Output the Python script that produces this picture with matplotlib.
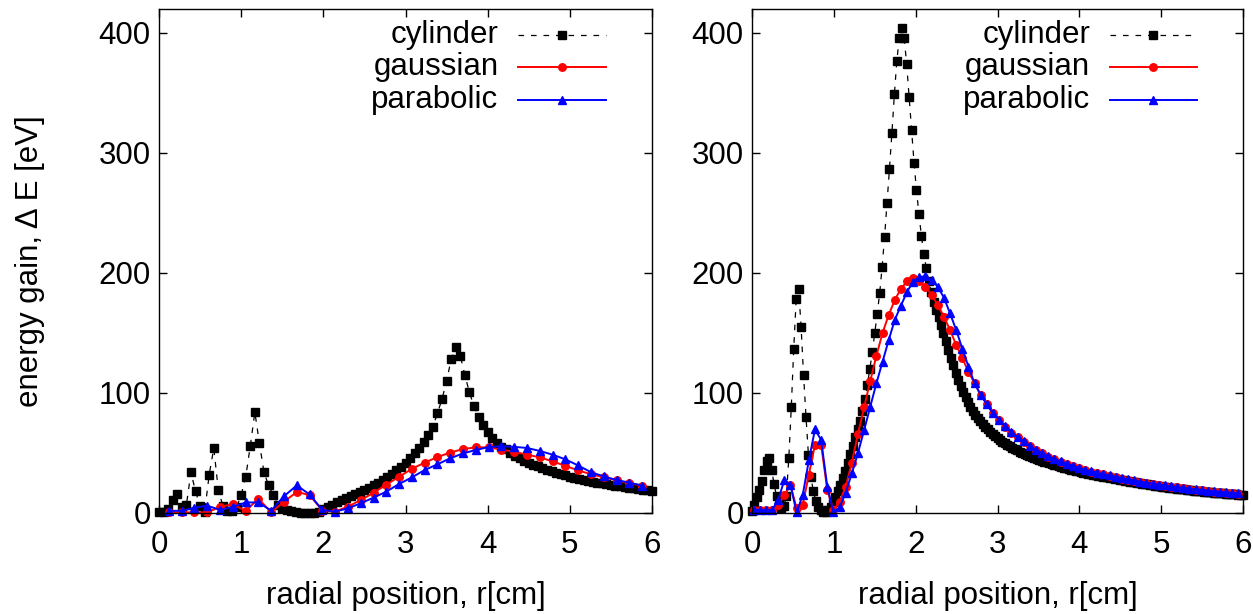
import numpy as np
import matplotlib
matplotlib.use("Agg")
import matplotlib.pyplot as plt
from matplotlib.lines import Line2D

plt.rcParams['font.family'] = ['Liberation Sans', 'DejaVu Sans']

# ---------------- data ----------------
labels = ["cylinder", "gaussian", "parabolic"]
xticks = [0, 1, 2, 3, 4, 5, 6]
yticks = [0, 100, 200, 300, 400]
xlabel = "radial position, r[cm]"
ylabel = "energy gain, \u0394 E [eV]"

# left panel
left_cyl = [0.5, 1, 3, 10.8, 15.8, 5, 6.7, 34, 18, 6,
            1, 32, 54, 19, 6, 2, 2, 5, 15, 30,
            56, 84, 58, 34, 23, 15, 7, 4, 2.5, 1.5,
            0.8, 0.3, 0, 0, 0.3, 1, 3, 5, 7, 9,
            11, 12.5, 14, 15.5, 17.2, 19, 20.7, 23, 25, 27.5,
            30, 32.5, 35.5, 38.5, 42, 45.6, 49.7, 54.5, 59, 65,
            72, 83, 95, 110, 128, 138, 131, 115, 100.5, 89,
            80, 73.3, 67.5, 62.5, 58.5, 55, 53, 50, 47.5, 45.5,
            43.7, 42, 40.3, 38.8, 37.4, 36, 34.8, 33.6, 32.5, 31.4,
            30.4, 29.4, 28.5, 27.6, 26.8, 26, 25.3, 24.6, 24, 23.4,
            22.8, 22.2, 21.6, 21, 20.5, 20, 19.5, 19, 18.6]
left_gau = [0.5, 0.5, 0.5, 0.5, 5, 7.5, 1.5, 12, 0.5, 9.4,
            17.5, 15, 2, 1.2, 5.3, 10.8, 16.8, 23.7, 30.2, 36.8,
            42, 46.6, 50.4, 53.3, 54.7, 54.7, 52.8, 51.1, 48.6, 46.4,
            43, 39.3, 35.5, 32.3, 29.7, 27.2, 24.7, 22.9]
left_par = [1.8, 1.8, 4.5, 6, 2.7, 5, 8.8, 8.8, 2, 14,
            23, 15.5, 2.5, 1.1, 3.9, 8.1, 12.8, 17.8, 24.2, 29.7,
            35.8, 40.6, 45.6, 49.7, 52.5, 55, 55.7, 55.1, 54.2, 51.7,
            48.6, 44.7, 39.6, 34, 30.5, 27.5, 25.3, 22.8]

# right panel
right_cyl = [2, 7, 13, 19, 27, 36, 43, 46, 36, 24,
             14, 7, 4, 6, 14, 46, 88, 137, 178, 187,
             155, 115, 80, 48, 30, 18, 10, 5, 2.5, 1,
             1, 2.5, 5, 9, 13, 18, 23, 29, 35, 42,
             49, 56, 63, 70, 77, 85, 95, 107, 120, 134,
             150, 166, 183, 205, 230, 258, 287, 317, 349, 377,
             396, 404, 396, 374, 347, 319, 292, 269, 249, 231,
             216, 204, 193, 184, 176, 169, 163, 157, 150, 143,
             136, 129, 123, 117, 111, 106, 101, 96.5, 92.5, 88.5,
             85, 82, 79, 76.5, 74, 71.8, 69.7, 67.7, 65.8, 64,
             62.4, 60.9, 59.5, 58.1, 56.8, 55.6, 54.4, 53.3, 52.2, 51.2,
             50.2, 49.3, 48.4, 47.5, 46.7, 45.9, 45.1, 44.3, 43.6, 42.9,
             42.2, 41.5, 40.8, 40.2, 39.6, 39.0, 38.4, 37.8, 37.2, 36.7,
             36.2, 35.7, 35.2, 34.7, 34.2, 33.7, 33.2, 32.8, 32.4, 32.0,
             31.6, 31.2, 30.8, 30.4, 30.0, 29.6, 29.2, 28.8, 28.4, 28.0,
             27.6, 27.25, 26.9, 26.55, 26.2, 25.85, 25.5, 25.15, 24.8, 24.45,
             24.1, 23.8, 23.5, 23.2, 22.9, 22.6, 22.3, 22.0, 21.7, 21.4,
             21.1, 20.85, 20.6, 20.35, 20.1, 19.85, 19.6, 19.35, 19.1, 18.85,
             18.6, 18.4, 18.2, 18.0, 17.8, 17.6, 17.4, 17.2, 17.0, 16.8,
             16.6, 16.45, 16.3, 16.15, 16.0, 15.85, 15.7, 15.55, 15.4, 15.25,
             15.1]
right_gau = [2.5, 2.5, 2.5, 2.5, 6.5, 15, 23, 4, 7, 32,
             57, 57, 19, 2.5, 9.5, 22, 42, 66, 88, 110,
             131, 150, 165, 177.5, 187, 193, 195.6, 193, 188.6, 181.7,
             173.3, 163.6, 152.5, 140, 129, 117.8, 108, 98.3, 90.6, 83,
             77.5, 72, 67, 63, 59.4, 55.8, 52.5, 49.7, 47, 44.7,
             42.8, 40.8, 39.2, 37.2, 35.8, 34.5, 33.3, 32.1, 31, 29.9,
             28.7, 27.7, 26.8, 25.9, 25.0, 24.2, 23.4, 22.7, 22.0, 21.3,
             20.7, 20.1, 19.5, 18.9, 18.4, 17.9, 17.4, 16.9, 16.4, 16.0]
right_par = [2.5, 2.5, 2.5, 2.5, 10.8, 27.5, 23.3, 0.5, 15, 44,
             69.7, 60.8, 22, 0.5, 4.7, 17, 33, 50, 69, 88.6,
             108, 126, 144, 161, 172.8, 184.4, 192.8, 196.4, 197.5, 194,
             188.6, 179.5, 166.4, 152.5, 137, 122, 108, 98.5, 90.5, 83.2,
             77.8, 72.3, 67.3, 63.3, 59.7, 56.1, 52.8, 50, 47.3, 45,
             43.1, 41.1, 39.5, 37.5, 36.1, 34.8, 33.6, 32.4, 31.3, 30.2,
             29, 28, 27.1, 26.2, 25.3, 24.5, 23.7, 23, 22.3, 21.6,
             21, 20.4, 19.8, 19.2, 18.7, 18.2, 17.7, 17.2, 16.7, 16.3]

# sample grids (radial positions)
left_cyl_r = np.linspace(0.0, 6.0, len(left_cyl))
left_gp_r = np.linspace(0.12, 5.88, len(left_gau))
right_cyl_r = np.linspace(0.0, 6.0, len(right_cyl))
right_gp_r = np.linspace(0.02, 5.945, len(right_gau))

# ---------------- styling ----------------
styles = [
    dict(color='black', linestyle=(0, (4.5, 5.5)), linewidth=0.9,
         marker='s', markersize=5.8, markerfacecolor='black', markeredgecolor='black'),
    dict(color='#ff0000', linestyle='-', linewidth=1.4,
         marker='o', markersize=5.4, markerfacecolor='#ff0000', markeredgecolor='#ff0000'),
    dict(color='#0000ff', linestyle='-', linewidth=1.4,
         marker='^', markersize=5.8, markerfacecolor='#0000ff', markeredgecolor='#0000ff'),
]

W, H = 1253, 614
fig = plt.figure(figsize=(W / 100, H / 100), dpi=100)
FS = 22.5


def make_axes(x0, x1):
    return fig.add_axes([x0 / W, 1 - 513 / H, (x1 - x0) / W, 504 / H])


axL = make_axes(159, 652)
axR = make_axes(752, 1243)

panels = [
    (axL, [(left_cyl_r, left_cyl), (left_gp_r, left_gau), (left_gp_r, left_par)]),
    (axR, [(right_cyl_r, right_cyl), (right_gp_r, right_gau), (right_gp_r, right_par)]),
]

rows = [0.948, 0.884, 0.819]
for ax, series in panels:
    for (r, v), st in zip(series, styles):
        ax.plot(r, v, clip_on=False, **st)
    ax.set_xlim(0, 6)
    ax.set_ylim(0, 420)
    ax.set_xticks(xticks)
    ax.set_yticks(yticks)
    ax.tick_params(axis='both', direction='in', length=6, width=1,
                   top=True, right=True, labelsize=FS)
    ax.tick_params(axis='x', pad=12)
    ax.tick_params(axis='y', pad=6)
    for sp in ax.spines.values():
        sp.set_linewidth(1.0)
    ax.set_xlabel(xlabel, fontsize=FS)
    ax.xaxis.set_label_coords(0.5, -0.135)
    # key (gnuplot style: right-aligned text, then sample)
    for lab, st, yy in zip(labels, styles, rows):
        ax.text(0.689, yy, lab, transform=ax.transAxes, ha='right', va='center',
                fontsize=FS)
        ln = Line2D([0.729, 0.8175, 0.906], [yy, yy, yy], transform=ax.transAxes,
                    markevery=[1], clip_on=False, **st)
        ax.add_line(ln)

axL.set_ylabel(ylabel, fontsize=FS)
axL.yaxis.set_label_coords(-0.232, 0.5)

fig.savefig("out.png", dpi=100)
